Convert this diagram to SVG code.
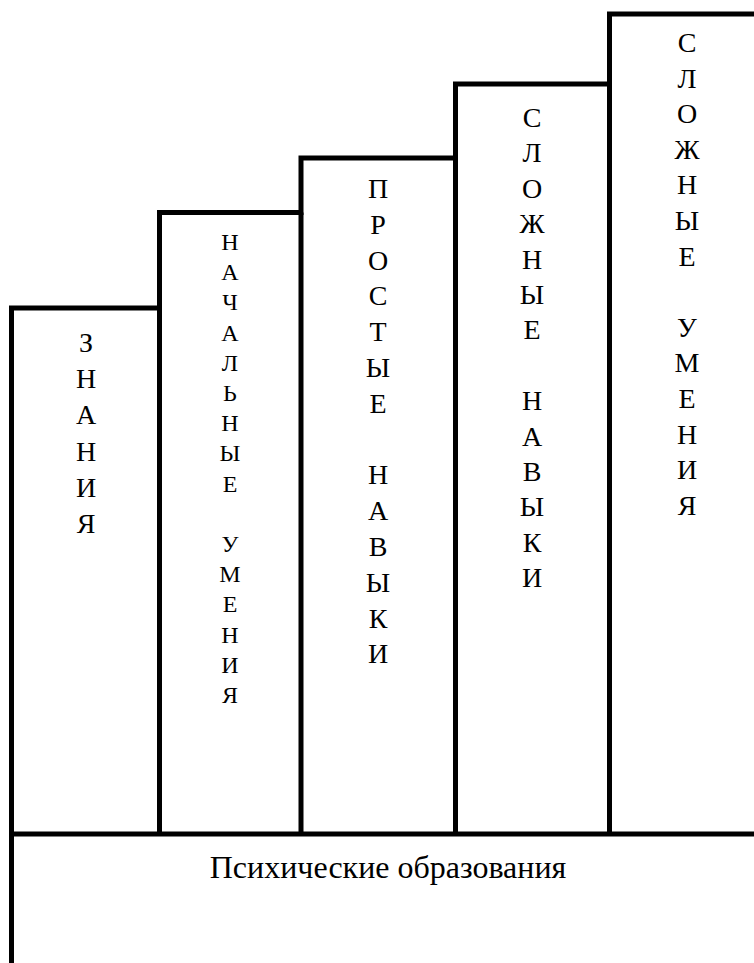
<svg xmlns="http://www.w3.org/2000/svg" width="754" height="963" viewBox="0 0 754 963">
<style>
.ln{fill:none;stroke:#000;stroke-width:5;stroke-linecap:butt;stroke-linejoin:miter}
text{font-family:'Liberation Serif','Times New Roman',serif;fill:#000;text-anchor:middle}
</style>
<rect x="0" y="0" width="754" height="963" fill="#fff"/>
<g id="connectors">
<path class="ln" d="M11.5,963 V308 H159.5 V212.5 H301 V158 H455.5 V84 H609.5 V14 H754"/>
<path class="ln" d="M159.5,308 V834 M301,212.5 V834 M455.5,158 V834 M609.5,84 V834 M11.5,834 H754"/>
</g>
<g id="node-znaniya" font-size="28">
<text x="86" y="352">З</text><text x="86" y="388.2">Н</text><text x="86" y="424.4">А</text><text x="86" y="460.6">Н</text><text x="86" y="496.8">И</text><text x="86" y="533">Я</text>
</g>
<g id="node-nachalnye-umeniya" font-size="24">
<text x="230" y="250">Н</text><text x="230" y="280.2">А</text><text x="230" y="310.4">Ч</text><text x="230" y="340.6">А</text><text x="230" y="370.8">Л</text><text x="230" y="401">Ь</text><text x="230" y="431.2">Н</text><text x="230" y="461.4">Ы</text><text x="230" y="491.6">Е</text><text x="230" y="552">У</text><text x="230" y="582.2">М</text><text x="230" y="612.4">Е</text><text x="230" y="642.6">Н</text><text x="230" y="672.8">И</text><text x="230" y="703">Я</text>
</g>
<g id="node-prostye-navyki" font-size="28">
<text x="378" y="198">П</text><text x="378" y="233.8">Р</text><text x="378" y="269.6">О</text><text x="378" y="305.4">С</text><text x="378" y="341.2">Т</text><text x="378" y="377">Ы</text><text x="378" y="412.8">Е</text><text x="378" y="484.4">Н</text><text x="378" y="520.2">А</text><text x="378" y="556">В</text><text x="378" y="591.8">Ы</text><text x="378" y="627.6">К</text><text x="378" y="663.4">И</text>
</g>
<g id="node-slozhnye-navyki" font-size="28">
<text x="532" y="127">С</text><text x="532" y="162.4">Л</text><text x="532" y="197.8">О</text><text x="532" y="233.2">Ж</text><text x="532" y="268.6">Н</text><text x="532" y="304">Ы</text><text x="532" y="339.4">Е</text><text x="532" y="410.2">Н</text><text x="532" y="445.6">А</text><text x="532" y="481">В</text><text x="532" y="516.4">Ы</text><text x="532" y="551.8">К</text><text x="532" y="587.2">И</text>
</g>
<g id="node-slozhnye-umeniya" font-size="28">
<text x="687" y="52">С</text><text x="687" y="87.6">Л</text><text x="687" y="123.2">О</text><text x="687" y="158.8">Ж</text><text x="687" y="194.4">Н</text><text x="687" y="230">Ы</text><text x="687" y="265.6">Е</text><text x="687" y="336.8">У</text><text x="687" y="372.4">М</text><text x="687" y="408">Е</text><text x="687" y="443.6">Н</text><text x="687" y="479.2">И</text><text x="687" y="514.8">Я</text>
</g>
<g id="node-psikhicheskie" font-size="32">
<text x="388" y="878">Психические образования</text>
</g>
</svg>
